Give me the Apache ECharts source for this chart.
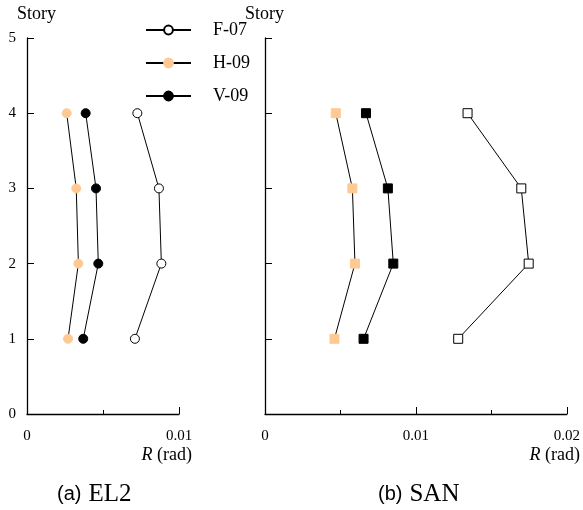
<!DOCTYPE html>
<html><head><meta charset="utf-8">
<script src="https://cdn.jsdelivr.net/npm/echarts@6/dist/echarts.min.js"></script>
<style>html,body{margin:0;padding:0;background:#fff}#c{width:583px;height:510px}</style>
</head><body><div id="c"></div>
<script>
const stories = [1, 2, 3, 4];
const seriesNames = ['F-07', 'H-09', 'V-09'];
// Panel (a) EL2
const el2_F07 = [0.0071, 0.00884, 0.00868, 0.00726];
const el2_H09 = [0.0027, 0.00338, 0.00324, 0.00261];
const el2_V09 = [0.0037, 0.00469, 0.00454, 0.00386];
// Panel (b) SAN
const san_F07 = [0.0128, 0.01747, 0.01698, 0.01342];
const san_H09 = [0.0046, 0.00596, 0.00579, 0.00469];
const san_V09 = [0.00653, 0.0085, 0.00814, 0.00669];
const yTicks = [0, 1, 2, 3, 4, 5];
const panelTitles = ['(a)', 'EL2', '(b)', 'SAN'];

const serif = '"Liberation Serif", "DejaVu Serif", serif';
const sans = '"Liberation Sans", Arial, sans-serif';
const peach = '#FFC993';

function pairs(xs) { return xs.map((v, i) => [v, stories[i]]); }

function mk(name, data, idx, symbol, fill, border) {
  return {
    name: name, type: 'line', xAxisIndex: idx, yAxisIndex: idx,
    data: pairs(data), symbol: symbol, symbolSize: 9, showSymbol: true,
    lineStyle: { color: '#000', width: 1 },
    itemStyle: { color: fill, borderColor: border, borderWidth: 1 },
    emphasis: { disabled: true }, animation: false, z: 3
  };
}

function xAx(idx, max) {
  return {
    type: 'value', gridIndex: idx, min: 0, max: max, interval: 0.01,
    axisLine: { show: true, onZero: false, lineStyle: { color: '#000', width: 1.3 } },
    axisTick: { show: true, inside: true, length: 7, lineStyle: { color: '#000' } },
    minorTick: { show: true, splitNumber: 2, length: 4, lineStyle: { color: '#000' } },
    splitLine: { show: false },
    axisLabel: { show: true, margin: 15, color: '#000', fontFamily: serif, fontSize: 15,
      formatter: v => v === 0 ? '0' : v.toFixed(2) }
  };
}
function yAx(idx, showLabels) {
  return {
    type: 'value', gridIndex: idx, min: yTicks[0], max: yTicks[yTicks.length - 1], interval: 1,
    axisLine: { show: true, onZero: false, lineStyle: { color: '#000', width: 1.3 } },
    axisTick: { show: true, inside: true, length: 7, lineStyle: { color: '#000' } },
    splitLine: { show: false },
    axisLabel: { show: showLabels, margin: 11, color: '#000', fontFamily: serif, fontSize: 15 }
  };
}

function txt(left, right, top, text, size, rich) {
  const o = { type: 'text', top: top, style: { text: text, fill: '#000', fontFamily: serif, fontSize: size } };
  if (left !== null) o.left = left;
  if (right !== null) o.right = right;
  if (rich) o.style.rich = rich;
  return o;
}
const rRich = { i: { fontFamily: serif, fontStyle: 'italic', fontSize: 18 }, n: { fontFamily: serif, fontSize: 18 } };
const tRich = {
  a: { fontFamily: sans, fontSize: 20, verticalAlign: 'bottom', padding: [0, 0, 3, 0] },
  b: { fontFamily: serif, fontSize: 25, padding: [0, 0, 0, 7], verticalAlign: 'bottom' }
};

const chart = echarts.init(document.getElementById('c'), null, { renderer: 'canvas' });
chart.setOption({
  backgroundColor: '#fff',
  animation: false,
  grid: [
    { left: 27, right: 404, top: 38, bottom: 96 },
    { left: 265, right: 15, top: 38, bottom: 96 }
  ],
  xAxis: [xAx(0, 0.01), xAx(1, 0.02)],
  yAxis: [yAx(0, true), yAx(1, false)],
  legend: {
    data: seriesNames, orient: 'vertical', left: 145, top: 21, padding: 0,
    itemWidth: 45, itemHeight: 11, itemGap: 15,
    textStyle: { fontFamily: serif, fontSize: 18, color: '#000', padding: [0, 0, 0, 17] },
    selectedMode: false
  },
  series: [
    mk(seriesNames[0], el2_F07, 0, 'circle', '#fff', '#000'),
    mk(seriesNames[1], el2_H09, 0, 'circle', peach, peach),
    mk(seriesNames[2], el2_V09, 0, 'circle', '#000', '#000'),
    mk(seriesNames[0], san_F07, 1, 'rect', '#fff', '#000'),
    mk(seriesNames[1], san_H09, 1, 'rect', peach, peach),
    mk(seriesNames[2], san_V09, 1, 'rect', '#000', '#000')
  ],
  graphic: [
    txt(17, null, 5, 'Story', 18),
    txt(245, null, 5, 'Story', 18),
    txt(null, 583 - 192, 446, '{i|R}{n| (rad)}', 18, rRich),
    txt(null, 3, 446, '{i|R}{n| (rad)}', 18, rRich),
    txt(57, null, 482, '{a|' + panelTitles[0] + '}{b|' + panelTitles[1] + '}', 20, tRich),
    txt(378, null, 482, '{a|' + panelTitles[2] + '}{b|' + panelTitles[3] + '}', 20, tRich)
  ]
});
</script></body></html>
